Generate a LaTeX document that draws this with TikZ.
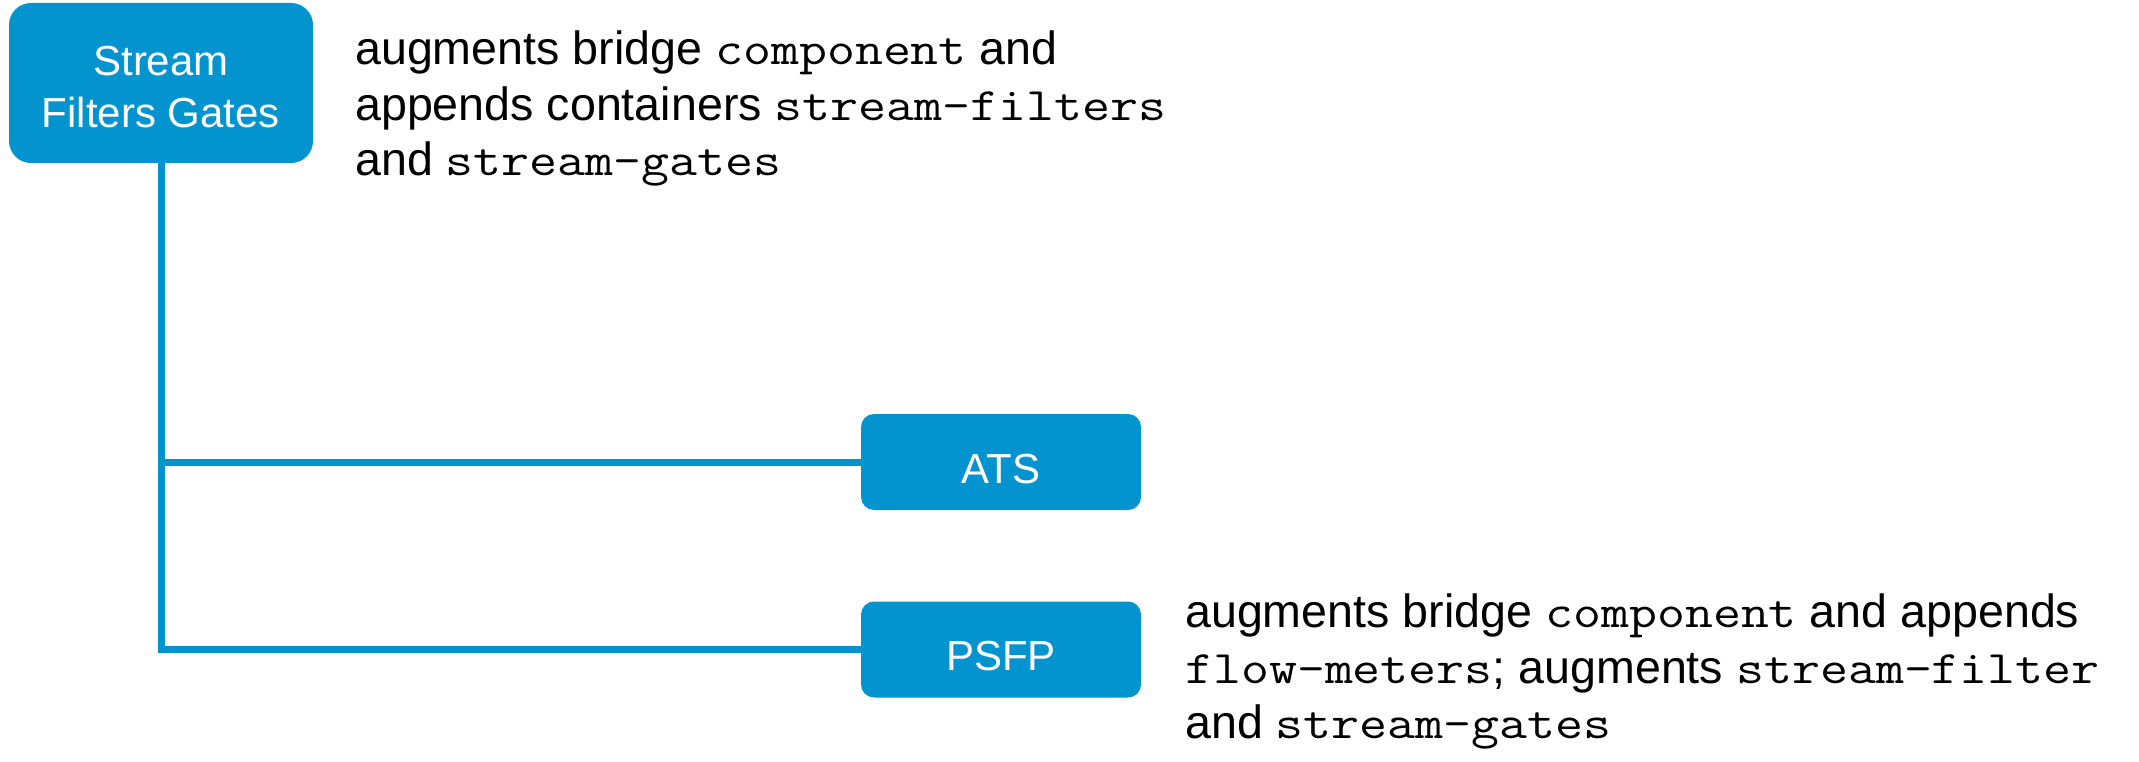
\documentclass[tikz,border=0pt]{standalone}
\usepackage{fontspec}
\setmainfont{Liberation Sans}
\setmonofont[FakeStretch=1.165]{Latin Modern Mono}
\definecolor{boxblue}{RGB}{3,148,208}
\begin{document}
\begin{tikzpicture}[x=1pt,y=-1pt,
  bluebox/.style={fill=boxblue, draw=none, text=white, inner sep=0pt,
    font=\fontsize{42}{52}\selectfont},
  smallbox/.style={bluebox, minimum width=280pt, minimum height=96pt,
    rounded corners=13pt, text height=42pt, text depth=0pt},
  body/.style={font=\fontsize{46.6}{55.5}\selectfont, inner sep=0pt, anchor=base west, text=black},
  conn/.style={draw=boxblue, line width=7pt}]
\useasboundingbox (0,0) rectangle (2139,762);

\node[bluebox, minimum width=304pt, minimum height=160pt, rounded corners=22pt, align=center]
  (sfg) at (161,83) {\rule{0pt}{36.5pt}Stream\\Filters Gates};
\node[smallbox] (ats) at (1001,462) {ATS};
\node[smallbox] (psfp) at (1001,649.5) {PSFP};

\draw[conn] (sfg.south) |- (psfp.west);
\draw[conn] (sfg.south |- ats.west) -- (ats.west);

\node[body] (ta) at (355,65) {augments bridge \texttt{component} and};
\node[body] (tb) at (355,120.5) {appends containers \texttt{stream-filters}};
\node[body] (tc) at (355,176) {and \texttt{stream-gates}};

\node[body] (pa) at (1185,627) {augments bridge \texttt{component} and appends};
\node[body] (pb) at (1185,683) {\texttt{flow-meters}; augments \texttt{stream-filter}};
\node[body] (pc) at (1185,738) {and \texttt{stream-gates}};
\end{tikzpicture}
\end{document}
